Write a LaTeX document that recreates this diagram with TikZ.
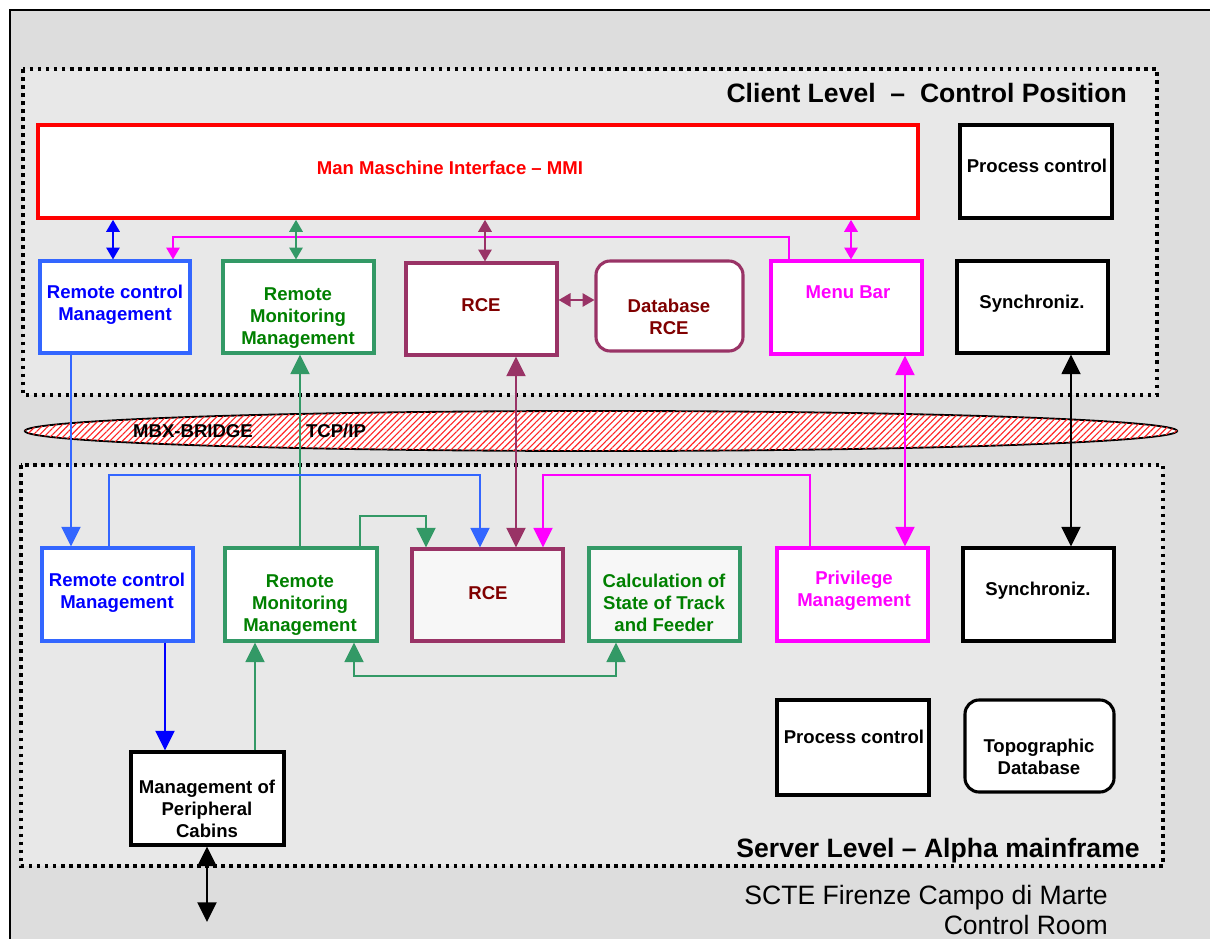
\documentclass[tikz,border=0pt]{standalone}
\usepackage{fontspec}
\setmainfont{Liberation Sans}
\usepackage{tikz}
\usetikzlibrary{arrows.meta}
\usetikzlibrary{patterns.meta}
\usepackage{xcolor}
\definecolor{bgout}{HTML}{DDDDDD}
\definecolor{bgin}{HTML}{E8E8E8}
\definecolor{rcblue}{HTML}{3366FF}
\definecolor{rcdark}{HTML}{0000FF}
\definecolor{rmgreen}{HTML}{339966}
\definecolor{rmtext}{HTML}{008000}
\definecolor{rcepurple}{HTML}{993366}
\definecolor{rcetext}{HTML}{800000}
\definecolor{menumag}{HTML}{FF00FF}
\definecolor{offwhite}{HTML}{F7F7F7}

\tikzset{
  bigtip/.tip={Triangle[width=13.5pt,length=14pt]},
  midtip/.tip={Triangle[width=9.5pt,length=8.5pt]},
  wh/.style 2 args={minimum width=#1*0.025cm, minimum height=#2*0.025cm},
  box/.style={draw, line width=2.2pt, fill=white, inner sep=0pt},
  txt/.style={font=\fontsize{13.2}{15.6}\selectfont\bfseries, align=center, inner sep=0pt},
  head/.style={font=\fontsize{18.9}{22}\selectfont\bfseries, inner sep=0pt},
  level/.style={line width=2.4pt, dash pattern=on 2.6pt off 3.1pt, fill=bgin},
  con/.style={line width=1.4pt},
}

\begin{document}
\begin{tikzpicture}[x=0.025cm,y=-0.025cm]
\useasboundingbox (0,0) rectangle (1210,939);
\draw [line width=1.3pt, fill=bgout] (10,10) rectangle (1230,960);
\draw [level] (23,69) rectangle (1157,395);
\draw [level] (21,465) rectangle (1163,866);
\draw [line width=1.3pt, fill=white, postaction={pattern={Lines[angle=45,distance=3.2pt,line width=0.8pt]}, pattern color=red!85}] (601,431) ellipse [x radius=14.4cm, y radius=0.5cm];
\node [txt] (mbx) at (193,431) {MBX-BRIDGE};
\node [txt] (tcp) at (336,431) {TCP/IP};

\node [head, anchor=east] (client) at (1127,93) {Client Level~~–~~Control Position};
\node [head, anchor=east] (server) at (1140,851) {Server Level – Alpha mainframe};
\node [font=\fontsize{18.9}{22}\selectfont, align=right, anchor=east, inner sep=0pt] (room) at (1108,910) {SCTE Firenze Campo di Marte\\Control Room};

% client level
\node [box, draw=red, line width=2.6pt, wh={880}{93}] (mmi) at (478,171.5) {};
\node [txt, text=red] (mmi-t) at (450,168) {Man Maschine Interface – MMI};
\node [box, wh={152}{93}] (pc1) at (1036,171.5) {};
\node [txt] (pc1-t) at (1037,166) {Process control};
\node [box, draw=rcblue, wh={150}{92}] (rcm1) at (115,307) {};
\node [txt, text=rcdark] (rcm1-t) at (115,305) {Remote control\\Management};
\node [box, draw=rmgreen, wh={151}{92}] (rmm1) at (298.5,307) {};
\node [txt, text=rmtext] (rmm1-t) at (298,318) {Remote\\Monitoring\\Management};
\node [box, draw=rcepurple, wh={151}{92}] (rce1) at (481.5,309) {};
\node [txt, text=rcetext] (rce1-t) at (481,305) {RCE};
\node [box, draw=rcepurple, rounded corners=10pt, wh={147}{90}] (db1) at (669.5,306) {};
\node [txt, text=rcetext] (db1-t) at (669,316.5) {Database\\RCE};
\node [box, draw=menumag, wh={151}{93}] (menu) at (846.5,307.5) {};
\node [txt, text=menumag] (menu-t) at (848,292) {Menu Bar};
\node [box, wh={151}{92}] (sync1) at (1032.5,307) {};
\node [txt] (sync1-t) at (1032,304) {Synchroniz.};

% server level
\node [box, draw=rcblue, wh={151}{93}] (rcm2) at (117.5,594.5) {};
\node [txt, text=rcdark] (rcm2-t) at (117,593) {Remote control\\Management};
\node [box, draw=rmgreen, wh={152}{93}] (rmm2) at (301,594.5) {};
\node [txt, text=rmtext] (rmm2-t) at (300,605) {Remote\\Monitoring\\Management};
\node [box, draw=rcepurple, fill=offwhite, wh={151}{92}] (rce2) at (487.5,595) {};
\node [txt, text=rcetext] (rce2-t) at (488,593) {RCE};
\node [box, draw=rmgreen, fill=offwhite, wh={151}{93}] (calc) at (664.5,594.5) {};
\node [txt, text=rmtext] (calc-t) at (664,603) {Calculation of\\State of Track\\and Feeder};
\node [box, draw=menumag, wh={151}{93}] (priv) at (852.5,594.5) {};
\node [txt, text=menumag] (priv-t) at (854,591) {Privilege\\Management};
\node [box, wh={151}{93}] (sync2) at (1038.5,594.5) {};
\node [txt] (sync2-t) at (1038,591) {Synchroniz.};
\node [box, wh={152}{95}] (pc2) at (853,747.5) {};
\node [txt] (pc2-t) at (854,737) {Process control};
\node [box, rounded corners=10pt, wh={149}{92}] (topo) at (1039.5,746) {};
\node [txt] (topo-t) at (1039,757) {Topographic\\Database};
\node [box, wh={153}{93}] (mpc) at (207.5,798.5) {};
\node [txt] (mpc-t) at (207,809) {Management of\\Peripheral\\Cabins};
\coordinate (ext) at (207,922);

% connectors
\draw [con, menumag] [-midtip] (789,0 |- menu.north) -- (789,237) -| (173,0 |- rcm1.north);
\draw [con, rcdark] [midtip-midtip] (113,0 |- mmi.south) -- (113,0 |- rcm1.north);
\draw [con, rmgreen] [midtip-midtip] (296,0 |- mmi.south) -- (296,0 |- rmm1.north);
\draw [con, rcepurple] [midtip-midtip] (485,0 |- mmi.south) -- (485,0 |- rce1.north);
\draw [con, menumag] [midtip-midtip] (851,0 |- mmi.south) -- (851,0 |- menu.north);
\draw [con, rcepurple] [midtip-midtip] (rce1.east |- 0,300) -- (db1.west |- 0,300);

\draw [con, rcblue] [-bigtip] (71,0 |- rcm1.south) -- (71,0 |- rcm2.north);
\draw [con, rmgreen] [-bigtip] (300,0 |- rmm2.north) -- (300,0 |- rmm1.south);
\draw [con, rcepurple, line width=1.8pt] [bigtip-bigtip] (516,0 |- rce1.south) -- (516,0 |- rce2.north);
\draw [con, menumag] [bigtip-bigtip] (905,0 |- menu.south) -- (905,0 |- priv.north);
\draw [con, black] [bigtip-bigtip] (1071,0 |- sync1.south) -- (1071,0 |- sync2.north);

\draw [con, rcblue] [-bigtip] (109,0 |- rcm2.north) -- (109,475) -| (480,0 |- rce2.north);
\draw [con, rmgreen] [-bigtip] (360,0 |- rmm2.north) -- (360,516) -| (426,0 |- rce2.north);
\draw [con, menumag] [-bigtip] (810,0 |- priv.north) -- (810,475) -| (543,0 |- rce2.north);
\draw [con, rmgreen] [bigtip-bigtip] (354,0 |- rmm2.south) -- (354,676) -| (616,0 |- calc.south);
\draw [con, rcdark] [-bigtip] (165,0 |- rcm2.south) -- (165,0 |- mpc.north);
\draw [con, rmgreen] [-bigtip] (255,0 |- mpc.north) -- (255,0 |- rmm2.south);
\draw [con, black] [bigtip-bigtip] (207,0 |- mpc.south) -- (ext);

\end{tikzpicture}
\end{document}
